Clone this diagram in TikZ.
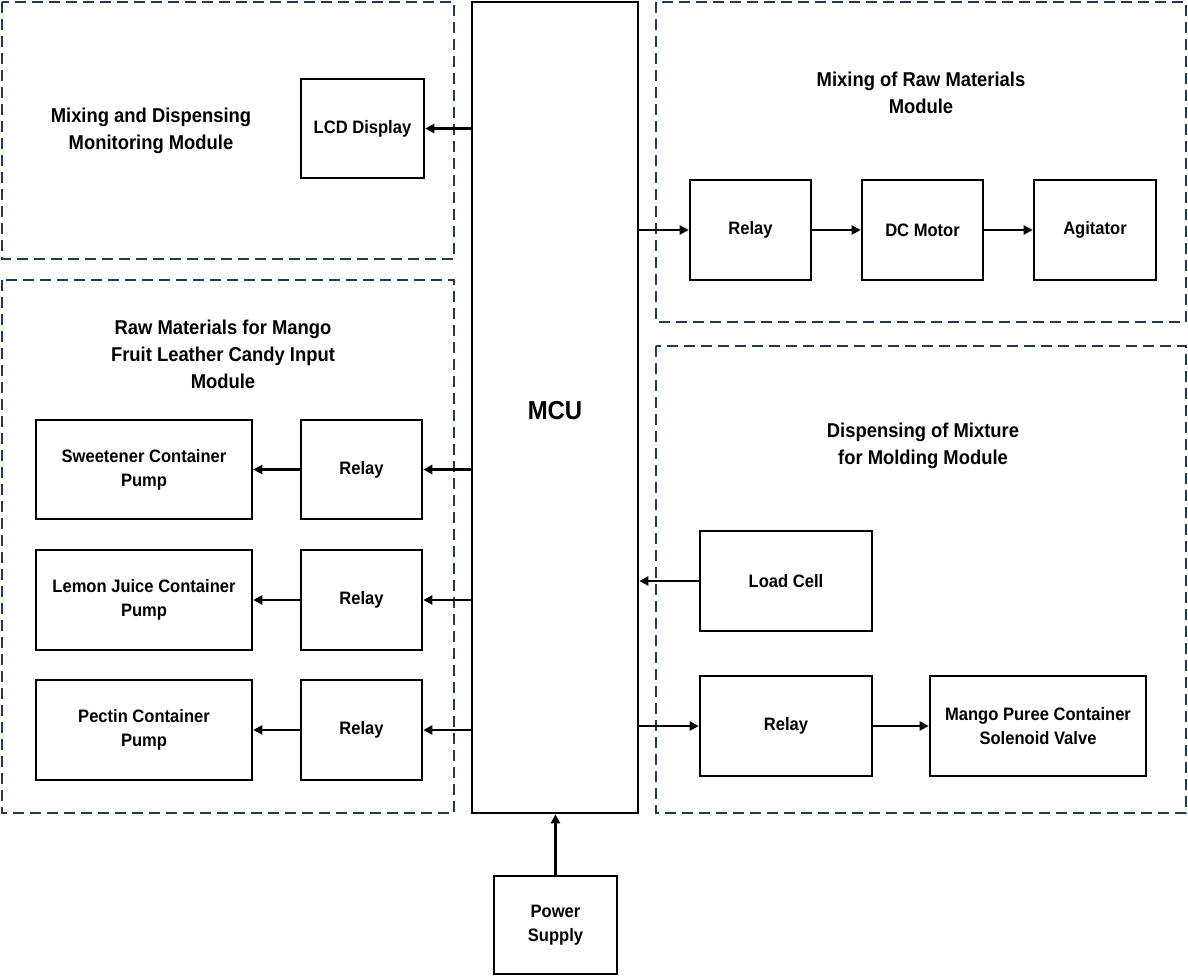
\documentclass[tikz,border=0pt]{standalone}
\usepackage{fontspec}
\setmainfont[FakeStretch=0.92]{Liberation Sans}
\usetikzlibrary{arrows.meta}
\definecolor{navy}{HTML}{1F3A5A}
\tikzset{
  x=1pt, y=-1pt,
  blk/.style={draw, line width=2.6pt, align=center, inner sep=0pt, font=\fontsize{18}{24}\selectfont\bfseries},
  ttl/.style={align=center, inner sep=0pt, font=\fontsize{20}{27}\selectfont\bfseries},
  frame/.style={draw=navy, line width=2.5pt, dash pattern=on 11pt off 6pt},
  arr/.style={line width=2.6pt, -{Triangle[length=9pt,width=9pt]}}
}
\newcommand{\bx}[6]{\node[blk, minimum width={#4-#2}, minimum height={#5-#3}] (#1) at ({(#2+#4)/2},{(#3+#5)/2}) {#6};}
\begin{document}
\begin{tikzpicture}
\useasboundingbox (0,0) rectangle (1188,977);
% frames
\draw[frame] (2,2) rectangle (454,259);
\draw[frame] (2,280) rectangle (454,813);
\draw[frame] (656,2) rectangle (1186,322);
\draw[frame] (656,346) rectangle (1186,813);
% MCU
\bx{mcu}{472}{2}{638}{813}{}
\node[font=\fontsize{26}{30}\selectfont\bfseries] (mcut) at (555,411) {MCU};
% titles
\node[ttl] (ta) at (151,131) {Mixing and Dispensing\\Monitoring Module};
\node[ttl] (tc) at (921,93) {Mixing of Raw Materials\\Module};
\node[ttl] (tb) at (223,354) {Raw Materials for Mango\\Fruit Leather Candy Input\\Module};
\node[ttl] (td) at (923,446) {Dispensing of Mixture\\for Molding Module};
% module A
\bx{lcd}{301}{79}{424}{178}{LCD Display}
\draw[arr] (mcu.west |- lcd.east) -- (lcd.east);
% module C
\bx{rc}{690}{180}{811}{280}{Relay}
\bx{dcm}{862}{180}{983}{280}{DC Motor}
\bx{agi}{1034}{180}{1156}{280}{Agitator}
\draw[arr] (mcu.east |- rc.west) -- (rc.west);
\draw[arr] (rc.east) -- (dcm.west);
\draw[arr] (dcm.east) -- (agi.west);
% module B
\bx{swp}{36}{420}{252}{519}{Sweetener Container\\Pump}
\bx{rb1}{301}{420}{422}{519}{Relay}
\bx{lmp}{36}{550}{252}{650}{Lemon Juice Container\\Pump}
\bx{rb2}{301}{550}{422}{650}{Relay}
\bx{pcp}{36}{680}{252}{780}{Pectin Container\\Pump}
\bx{rb3}{301}{680}{422}{780}{Relay}
\draw[arr] (mcu.west |- rb1.east) -- (rb1.east);
\draw[arr] (rb1.west) -- (swp.east);
\draw[arr] (mcu.west |- rb2.east) -- (rb2.east);
\draw[arr] (rb2.west) -- (lmp.east);
\draw[arr] (mcu.west |- rb3.east) -- (rb3.east);
\draw[arr] (rb3.west) -- (pcp.east);
% module D
\bx{lc}{700}{531}{872}{631}{Load Cell}
\bx{rd}{700}{676}{872}{776}{Relay}
\bx{sv}{930}{676}{1146}{776}{Mango Puree Container\\Solenoid Valve}
\draw[arr] (lc.west) -- (mcu.east |- lc.west);
\draw[arr] (mcu.east |- rd.west) -- (rd.west);
\draw[arr] (rd.east) -- (sv.west);
% power
\bx{ps}{494}{876}{617}{974}{Power\\Supply}
\draw[arr] (ps.north) -- (ps.north |- mcu.south);
\end{tikzpicture}
\end{document}
